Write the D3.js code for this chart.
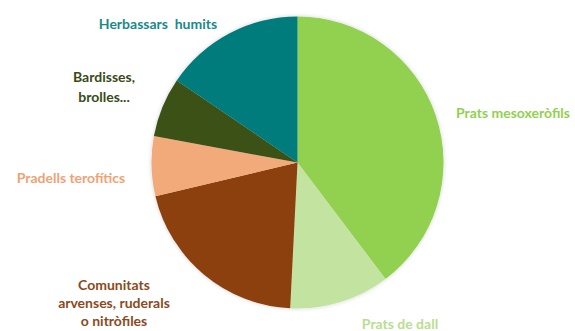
<!DOCTYPE html>
<html><head><meta charset="utf-8">
<script src="https://cdn.jsdelivr.net/npm/d3@7"></script>
<style>body{margin:0;background:#fff}svg{display:block}text{font-family:Lato,"Open Sans",sans-serif;font-weight:bold}</style>
</head><body>
<script>
const categories = ["Prats mesoxeròfils","Prats de dall","Comunitats arvenses, ruderals o nitròfiles","Pradells terofítics","Bardisses, brolles...","Herbassars humits"];
const values = [39.7, 11.1, 20.5, 6.6, 6.6, 15.5];
const labelLines = [["Prats mesoxeròfils"],["Prats de dall"],["Comunitats","arvenses, ruderals","o nitròfiles"],["Pradells terofítics"],["Bardisses,","brolles..."],["Herbassars  humits"]];

const sliceColors = ["#92d050","#c3e3a0","#8b3f0d","#f2aa7a","#3a5116","#007c7c"];
const textColors = ["#92d050","#b9de90","#8b4a1c","#f0a274","#3a4a1a","#188a8a"];
const labelXY = [[513,118],[400,329],[114,290],[71,183],[104,82],[158,29]];
const lineGap = [0,0,18,0,20,0];

const W=575,H=331,cx=297.5,cy=162.5,R=146;
const svg=d3.select("body").append("svg").attr("width",W).attr("height",H);
const defs=svg.append("defs");
const f=defs.append("filter").attr("id","sh").attr("x","-20%").attr("y","-20%").attr("width","140%").attr("height","140%");
f.append("feDropShadow").attr("dx",0).attr("dy",0).attr("stdDeviation",2).attr("flood-color","#000").attr("flood-opacity",0.18);

const pie=d3.pie().sort(null).value(d=>d);
const arc=d3.arc().innerRadius(0).outerRadius(R);
const g=svg.append("g").attr("transform",`translate(${cx},${cy})`).attr("filter","url(#sh)");
g.selectAll("path").data(pie(values)).join("path").attr("d",arc).attr("fill",(d,i)=>sliceColors[i]);

const lg=svg.append("g");
labelLines.forEach((lines,i)=>{
  const t=lg.append("text").attr("x",labelXY[i][0]).attr("y",labelXY[i][1]).attr("text-anchor","middle")
    .attr("fill",textColors[i]).attr("font-size",14).style("white-space","pre");
  lines.forEach((l,j)=>t.append("tspan").attr("x",labelXY[i][0]).attr("dy",j===0?0:lineGap[i]).text(l));
});
</script>
</body></html>
